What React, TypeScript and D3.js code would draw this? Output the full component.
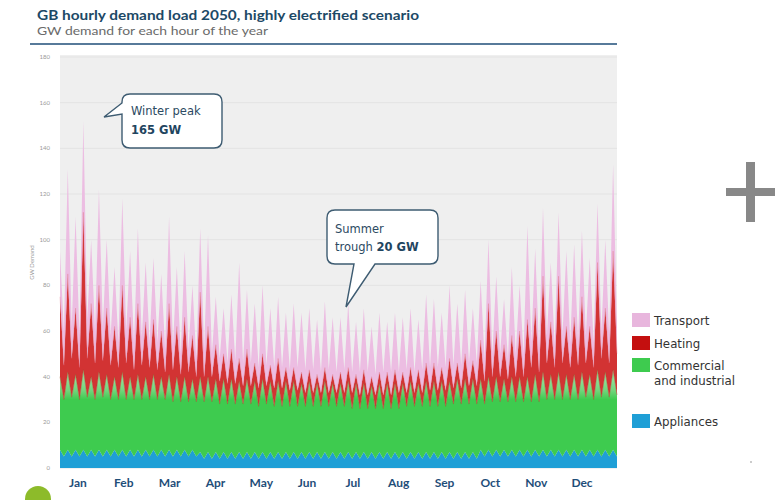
import React from "react";
import * as d3 from "d3";

const months = ["Jan", "Feb", "Mar", "Apr", "May", "Jun", "Jul", "Aug", "Sep", "Oct", "Nov", "Dec"];
const yTicks = [0, 20, 40, 60, 80, 100, 120, 140, 160, 180];

// GW per sample (alternating daily peak / trough readings, 12 samples per month)
const appliances = [
  8,5,8,5,8,5,8,5,8,5,8,5,
  8,5,8,5,8,5,8,5,8,5,8,5,
  8,5,8,5,8,5,8,5,8,5,8,5,
  7,4,7,4,7,4,7,4,7,4,7,4,
  7,4,7,4,7,4,7,4,7,4,7,4,
  7,4,7,4,7,4,7,4,7,4,7,4,
  7,4,7,4,7,4,7,4,7,4,7,4,
  7,4,7,4,7,4,7,4,7,4,7,4,
  7,4,7,4,7,4,7,4,7,4,7,4,
  8,5,8,5,8,5,8,5,8,5,8,5,
  8,5,8,5,8,5,8,5,8,5,8,5,
  8,5,8,5,8,5,8,5,8,5,8,5,
];
const commercial = [
  32,25,34,26,33,25,35,26,32,25,34,26,
  33,25,32,25,34,25,32,25,33,25,32,25,
  33,25,32,25,33,24,32,24,32,24,31,24,
  33,25,33,25,32,24,32,24,32,24,31,24,
  32,24,31,23,32,24,31,23,31,23,31,23,
  31,23,30,23,31,23,30,23,31,23,30,23,
  30,23,31,22,30,22,30,22,29,22,30,22,
  30,22,30,22,30,23,31,23,30,23,31,23,
  31,23,31,23,31,24,32,24,32,24,32,24,
  31,23,32,24,32,24,31,24,32,24,32,24,
  32,24,33,24,34,25,33,25,34,25,33,25,
  33,25,34,26,33,25,35,26,34,26,35,27,
];
const heating = [
  35,15,43,17,29,14,69,17,32,16,38,16,
  29,15,22,14,38,16,26,13,31,15,24,14,
  24,13,20,12,31,14,22,12,26,13,19,11,
  37,11,22,11,15,10,11,9,13,9,10,8,
  13,8,8,8,11,8,7,8,10,8,6,7,
  6,7,5,6,5,6,4,6,6,6,4,6,
  5,6,6,7,4,6,6,6,4,6,5,6,
  5,6,6,7,5,6,6,6,6,6,8,7,
  8,7,6,7,10,7,7,7,11,8,8,8,
  17,10,32,11,20,11,15,10,18,11,20,11,
  25,15,29,13,42,16,23,14,42,16,21,14,
  25,15,33,15,21,14,47,17,28,15,52,18,
];
const transport = [
  20,15,46,14,40,14,40,17,28,14,42,15,
  30,13,26,11,38,14,29,12,33,12,26,11,
  27,12,25,10,38,11,26,9,29,10,22,8,
  28,12,40,10,21,10,20,9,24,10,42,10,
  26,10,26,9,30,9,25,9,27,9,24,9,
  28,10,26,10,27,10,24,9,29,10,25,9,
  24,10,28,9,23,10,27,10,22,9,26,10,
  22,10,25,9,24,10,26,9,22,10,30,10,
  28,10,24,10,32,10,26,10,28,10,23,10,
  26,10,28,10,24,10,20,9,30,10,20,10,
  41,11,26,10,30,12,26,10,28,12,33,11,
  32,11,29,12,30,11,26,12,30,12,38,12,
];

const seriesKeys = ["appliances", "commercial", "heating", "transport"];
const seriesFill: Record<string, string> = {
  appliances: "#1f9fd6",
  commercial: "url(#commGrad)",
  heating: "#d23333",
  transport: "#ecbde2",
};
const legendItems = [
  { label: ["Transport"], color: "#e8b6dd", y: 313 },
  { label: ["Heating"], color: "#c40f0f", y: 336 },
  { label: ["Commercial", "and industrial"], color: "#3ecb4f", y: 358 },
  { label: ["Appliances"], color: "#1f9fd6", y: 414 },
];

const FONT = "Lato, 'Open Sans', sans-serif";
const WIDE = "'DejaVu Sans', Verdana, sans-serif";

export default function App() {
  const W = 777, H = 500;
  const left = 60, right = 617, top = 57, bottom = 468;
  const x = d3.scaleLinear().domain([0, appliances.length - 1]).range([left, right]);
  const y = d3.scaleLinear().domain([0, 180]).range([bottom, top]);
  const mx = d3.scalePoint<string>().domain(months).range([78, 582]);

  const rows = appliances.map((a, i) => ({
    appliances: a,
    commercial: commercial[i],
    heating: heating[i],
    transport: transport[i],
  }));
  const stacked = d3.stack<any>().keys(seriesKeys)(rows);
  const area = d3
    .area<any>()
    .x((_d, i) => x(i))
    .y0((d) => y(d[0]))
    .y1((d) => y(d[1]));
  const topLine = d3
    .line<any>()
    .x((_d, i) => x(i))
    .y((d) => y(d[1]));

  const navy = "#1c4966";
  const boxStroke = "#3e5c72";

  return (
    <svg width={W} height={H} style={{ position: "absolute", left: 0, top: 0, display: "block", background: "#fff" }} fontFamily={FONT}>
      <defs>
        <linearGradient id="commGrad" gradientUnits="userSpaceOnUse" x1="0" x2="0" y1={y(38)} y2={y(30)}>
          <stop offset="0" stopColor="#8ade94" />
          <stop offset="0.5" stopColor="#72d57d" />
          <stop offset="1" stopColor="#3ecb4f" />
        </linearGradient>
      </defs>

      {/* title */}
      <text x={37} y={20} fontSize={14} fontWeight={700} fill={navy} textLength={382} lengthAdjust="spacingAndGlyphs">
        GB hourly demand load 2050, highly electrified scenario
      </text>
      <text x={37} y={35} fontSize={12} fill="#6a6a6a" textLength={231} lengthAdjust="spacingAndGlyphs">
        GW demand for each hour of the year
      </text>
      <line x1={30} x2={617} y1={44} y2={44} stroke="#1f4e79" strokeWidth={1.6} />

      {/* plot background */}
      <rect x={left} y={top - 2} width={right - left} height={bottom - top + 2} fill="#efefef" />
      {yTicks.map((t) => (
        <line key={"g" + t} x1={left} x2={right} y1={y(t)} y2={y(t)} stroke="#e3e3e3" strokeWidth={1} />
      ))}

      {/* stacked areas */}
      {stacked.map((s) => (
        <path key={s.key} d={area(s) || ""} fill={seriesFill[s.key]} />
      ))}
      <path d={topLine(stacked[1]) || ""} fill="none" stroke="#9a5a2c" strokeOpacity={0.55} strokeWidth={0.8} />
      <path d={topLine(stacked[2]) || ""} fill="none" stroke="#e06a80" strokeOpacity={0.5} strokeWidth={0.6} />

      {/* y ticks */}
      {yTicks.map((t) => (
        <text key={"t" + t} x={50} y={y(t) + 2} fontSize={6} fill="#9a9a9a" textAnchor="end">
          {t}
        </text>
      ))}
      <text transform={`translate(34,${(top + bottom) / 2}) rotate(-90)`} fontSize={6} fill="#9a9a9a" textAnchor="middle">
        GW Demand
      </text>

      {/* months */}
      {months.map((m) => (
        <text key={m} x={mx(m)} y={487} fontSize={12} fontWeight={700} fill="#1f4e79" textAnchor="middle">
          {m}
        </text>
      ))}

      {/* callout winter */}
      <path
        d={`M130,94 H214 Q222,94 222,102 V140 Q222,148 214,148 H130 Q122,148 122,140 V114 L104,117 L122,103 V102 Q122,94 130,94 Z`}
        fill="#fff"
        stroke={boxStroke}
        strokeWidth={1.4}
      />
      <text x={131} y={115} fontSize={11.5} fill="#2c4a62" fontFamily={WIDE}>Winter peak</text>
      <text x={131} y={134} fontSize={11.5} fontWeight={700} fill="#1f4560" fontFamily={WIDE}>165 GW</text>

      {/* callout summer */}
      <path
        d={`M335,210 H430 Q438,210 438,218 V256 Q438,264 430,264 H375 L346,307 L354,264 H335 Q327,264 327,256 V218 Q327,210 335,210 Z`}
        fill="#fff"
        stroke={boxStroke}
        strokeWidth={1.4}
      />
      <text x={335} y={233} fontSize={11.5} fill="#2c4a62" fontFamily={WIDE}>Summer</text>
      <text x={335} y={251} fontSize={11.5} fill="#2c4a62" fontFamily={WIDE}>
        trough <tspan fontWeight={700} fill="#1f4560">20 GW</tspan>
      </text>

      {/* legend */}
      {legendItems.map((it) => (
        <g key={it.label[0]}>
          <rect x={632} y={it.y} width={18} height={14} fill={it.color} />
          {it.label.map((l, j) => (
            <text key={l} x={654} y={it.y + 12 + j * 15} fontSize={11.8} fill="#333" fontFamily={WIDE}>
              {l}
            </text>
          ))}
        </g>
      ))}

      {/* decorations */}
      <rect x={746} y={162} width={9} height={60} fill="#888" />
      <rect x={726} y={188} width={49} height={8} fill="#888" />
      <circle cx={38} cy={499} r={13} fill="#8dbb2a" />
      <circle cx={751} cy={462} r={1} fill="#bbb" />
    </svg>
  );
}
